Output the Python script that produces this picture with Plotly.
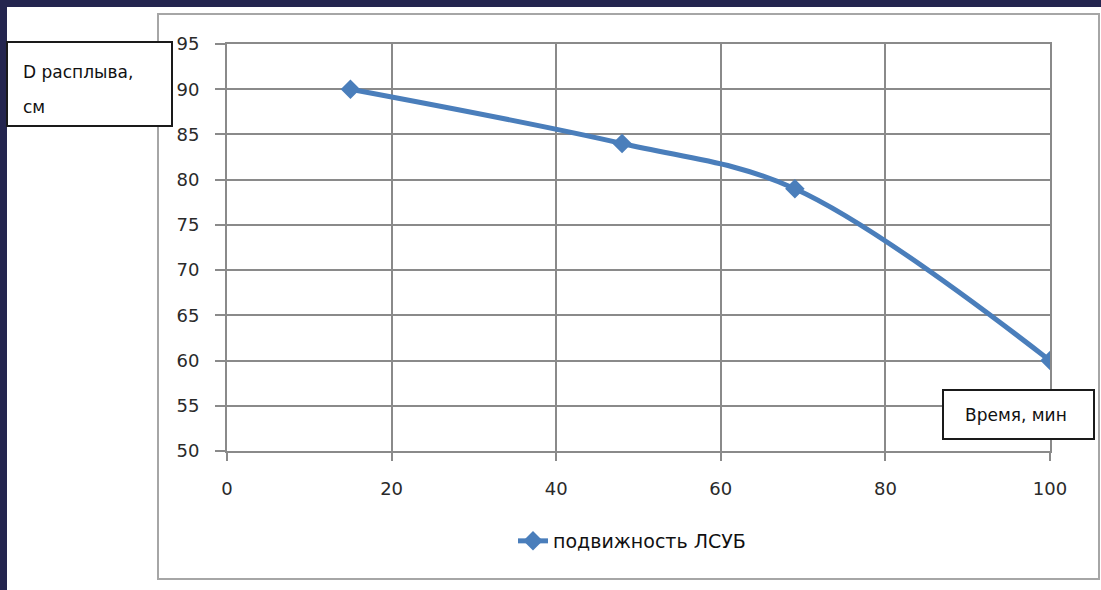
import plotly.graph_objects as go

# Data
time_min = [15, 48, 69, 100]
spread_cm = [90, 84, 79, 60]
series_name = "подвижность ЛСУБ"
y_label = "D расплыва,"
y_label2 = "см"
x_label = "Время, мин"
x_ticks = [0, 20, 40, 60, 80, 100]
y_ticks = [50, 55, 60, 65, 70, 75, 80, 85, 90, 95]

W, H = 1101, 590
L, R, T, B = 227, 51, 44, 139
pw, ph = W - L - R, H - T - B

def px(x):
    return (x - L) / pw

def py(y):
    return (H - B - y) / ph

BLUE = "#4a7ebb"
GRID = "#8a8a8a"
NAVY = "#24254f"

fig = go.Figure()
fig.add_trace(go.Scatter(
    x=time_min, y=spread_cm, mode="lines+markers", name=series_name,
    line=dict(color=BLUE, width=5, shape="spline", smoothing=1.0),
    marker=dict(symbol="diamond", size=15, color=BLUE),
))

shapes = [
    # white slide region
    dict(type="rect", xref="paper", yref="paper", x0=px(7), x1=px(1110), y0=py(600), y1=py(7),
         fillcolor="white", line=dict(width=0), layer="below"),
    # chart border
    dict(type="rect", xref="paper", yref="paper", x0=px(158), x1=px(1099), y0=py(579), y1=py(14),
         fillcolor="white", line=dict(color="#a6a6a6", width=2), layer="below"),
    # y label box
    dict(type="rect", xref="paper", yref="paper", x0=px(7), x1=px(172), y0=py(126), y1=py(42),
         fillcolor="white", line=dict(color="#1a1a1a", width=2), layer="above"),
    # x label box
    dict(type="rect", xref="paper", yref="paper", x0=px(943), x1=px(1094), y0=py(439), y1=py(390),
         fillcolor="white", line=dict(color="#1a1a1a", width=2), layer="above"),
]

annotations = [
    dict(text=y_label, xref="paper", yref="paper", x=px(21), y=py(72), xanchor="left", yanchor="middle",
         showarrow=False, font=dict(size=17, color="#111", family="DejaVu Sans")),
    dict(text=y_label2, xref="paper", yref="paper", x=px(21), y=py(107), xanchor="left", yanchor="middle",
         showarrow=False, font=dict(size=17, color="#111", family="DejaVu Sans")),
    dict(text=x_label, xref="paper", yref="paper", x=px(1016), y=py(415), xanchor="center", yanchor="middle",
         showarrow=False, font=dict(size=17, color="#111", family="DejaVu Sans")),
]

fig.update_layout(
    width=W, height=H,
    margin=dict(l=L, r=R, t=T, b=B),
    paper_bgcolor=NAVY, plot_bgcolor="white",
    shapes=shapes, annotations=annotations,
    font=dict(family="DejaVu Sans", color="#333"),
    showlegend=True,
    legend=dict(x=px(632), y=py(541), xanchor="center", yanchor="middle",
                font=dict(size=19, color="#111"), bgcolor="rgba(0,0,0,0)"),
    xaxis=dict(range=[0, 100], tickvals=x_ticks, showgrid=True, gridcolor=GRID, gridwidth=2,
               showline=True, mirror=True, linecolor=GRID, linewidth=2, zeroline=False,
               ticks="outside", ticklen=8, tickcolor=GRID, tickwidth=2, ticklabelstandoff=12,
               tickfont=dict(size=18, color="#2a2a2a")),
    yaxis=dict(range=[50, 95], tickvals=y_ticks, showgrid=True, gridcolor=GRID, gridwidth=2,
               showline=True, mirror=True, linecolor=GRID, linewidth=2, zeroline=False,
               ticks="outside", ticklen=10, tickcolor=GRID, tickwidth=2, ticklabelstandoff=12,
               tickfont=dict(size=18, color="#2a2a2a")),
)

fig.write_html("out.html", config={"displayModeBar": False},
               post_script="document.body.style.margin='0';document.body.style.overflow='hidden';")
